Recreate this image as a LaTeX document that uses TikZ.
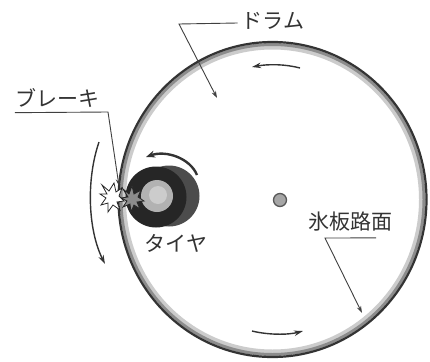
\documentclass[tikz,border=0pt]{standalone}
\usepackage{fontspec}
\newfontfamily\jp{Noto Sans CJK JP}
\usetikzlibrary{arrows.meta,calc}
\begin{document}
\begin{tikzpicture}[x=1pt,y=-1pt,
  lbl/.style={font=\jp\fontsize{21}{21}\selectfont, text=black!80, inner sep=0pt},
  leader/.style={draw=black!75, line width=0.9pt},
  tip/.style={-{Stealth[length=7pt,width=4.5pt]}},
  motion/.style={draw=black!80, line width=1.4pt, -{Stealth[length=9pt,width=5.5pt]}},
  burst/.style={line width=0.8pt, draw=black!85, line join=miter},
]
\useasboundingbox[fill=white] (0,0) rectangle (430,361);

% drum rim: dark outer edge shading into grey inside
\coordinate (c) at (272.5,199.5);
\draw[black!20, line width=4pt] (c) ellipse [x radius=148.5, y radius=152];
\draw[black!45, line width=3pt] (c) ellipse [x radius=151.5, y radius=155];
\draw[black!80, line width=2.2pt] (c) ellipse [x radius=154, y radius=157.5];

% drum axle
\node[circle, draw=black!65, fill=black!35, line width=1.3pt, minimum size=13pt, inner sep=0pt] (axle) at (280,200) {};

% tyre pressed against the rim
\fill[black!70] (169,196) circle[radius=30.5];
\fill[black!85] (156,197) circle[radius=30.5];
\node[circle, fill=black!30, minimum size=32pt, inner sep=0pt] (tyre) at (157,196) {};
\fill[black!20] (158,195) circle[radius=9];

% sparks at the brake contact
\draw[burst, fill=black!45] (131,198) ++(-8,-9) -- ++(6,5) -- ++(3,-8) -- ++(2,8) -- ++(7,-4) -- ++(-3,7)
  -- ++(6,4) -- ++(-7,1) -- ++(3,7) -- ++(-6,-4) -- ++(-3,7) -- ++(-1,-8) -- ++(-7,3) -- ++(4,-6) -- ++(-6,-3) -- ++(7,-1) -- cycle;
\draw[burst, fill=white] (112,197) ++(-10,-12) -- ++(7,6) -- ++(5,-8) -- ++(2,9) -- ++(6,-4) -- ++(-3,8)
  -- ++(5,5) -- ++(-7,1) -- ++(3,8) -- ++(-7,-5) -- ++(-5,7) -- ++(0,-9) -- ++(-7,2) -- ++(5,-7) -- ++(-6,-4) -- ++(7,0) -- cycle;

% motion arrows
\coordinate (s1) at (99,142);  \coordinate (e1) at (105,264);
\draw[motion] (s1) .. controls (86,180) and (88,230) .. (e1);
\coordinate (s2) at (197,175); \coordinate (e2) at (146,157);
\draw[motion, line width=2.4pt, -{Stealth[length=9pt,width=7pt]}] (s2) .. controls (190,158) and (166,150) .. (e2);
\coordinate (s3) at (300,68);  \coordinate (e3) at (252,67);
\draw[motion] (s3) .. controls (285,64) and (268,64) .. (e3);
\coordinate (s4) at (252,331); \coordinate (e4) at (303,331);
\draw[motion] (s4) .. controls (268,335) and (288,335) .. (e4);

% labels
\node[lbl] (drumlbl) at (273,21) {ドラム};
\node[lbl] (brakelbl) at (57,98) {ブレーキ};
\node[lbl] (tyrelbl) at (176,243) {タイヤ};
\node[lbl] (icelbl) at (350,222) {氷板路面};

% leader lines
\coordinate (d1) at ($(drumlbl.west)+(-4,2)$);
\coordinate (d2) at (179,24);
\coordinate (d3) at (217,98);
\draw[leader, tip] (d1) -- (d2) -- (d3);

\coordinate (b1) at ($(brakelbl.south west)+(0,5)$);
\coordinate (b2) at (108,112);
\coordinate (b3) at (119,186);
\draw[leader, tip] (b1) -- (b2) -- (b3);

\coordinate (i1) at ($(icelbl.south east)+(-16,6)$);
\coordinate (i2) at (325,238);
\coordinate (i3) at (362,313);
\draw[leader, tip] (i1) -- (i2) -- (i3);
\end{tikzpicture}
\end{document}
